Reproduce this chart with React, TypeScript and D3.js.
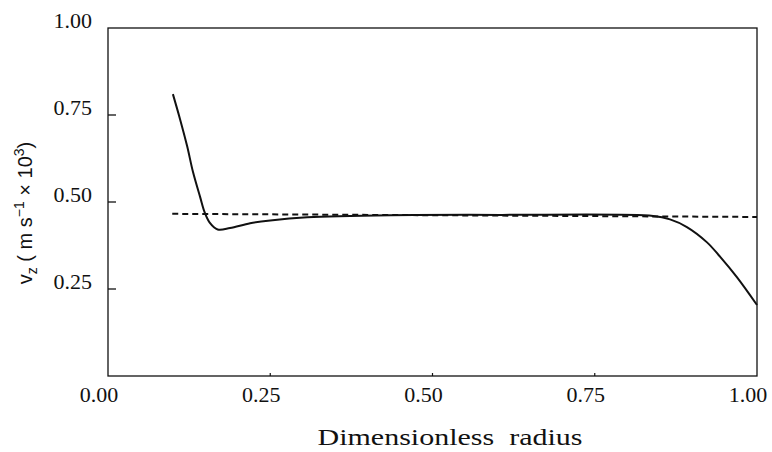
import React from "react";
import * as d3 from "d3";

const xTicks = [0, 0.25, 0.5, 0.75, 1.0];
const xTickLabels = ["0.00", "0.25", "0.50", "0.75", "1.00"];
const yTicks = [0.25, 0.5, 0.75, 1.0];
const yTickLabels = ["0.25", "0.50", "0.75", "1.00"];

const solidR = [0.100, 0.111, 0.122, 0.131, 0.142, 0.149, 0.157, 0.169, 0.188, 0.219, 0.250, 0.307, 0.435, 0.604, 0.840, 0.866, 0.892, 0.923, 0.943, 0.969, 1.000];
const solidV = [0.810, 0.738, 0.660, 0.586, 0.514, 0.470, 0.440, 0.421, 0.425, 0.439, 0.447, 0.456, 0.462, 0.463, 0.460, 0.450, 0.428, 0.384, 0.343, 0.284, 0.204];

const dashedR = [0.099, 0.5, 1.0];
const dashedV = [0.466, 0.462, 0.457];

export default function App() {
  const x = d3.scaleLinear().domain([0, 1]).range([108, 757]);
  const y = d3.scaleLinear().domain([0, 1]).range([376, 28]);

  const smooth = d3
    .line<[number, number]>()
    .x((d) => x(d[0]))
    .y((d) => y(d[1]))
    .curve(d3.curveCatmullRom.alpha(0.5));
  const straight = d3
    .line<[number, number]>()
    .x((d) => x(d[0]))
    .y((d) => y(d[1]));

  const solid = solidR.map((r, i) => [r, solidV[i]] as [number, number]);
  const dashed = dashedR.map((r, i) => [r, dashedV[i]] as [number, number]);

  const ink = "#111";
  const serif = "Liberation Serif";
  const sans = "Liberation Sans";

  return (
    <svg
      width={772}
      height={452}
      style={{ position: "absolute", left: 0, top: 0, background: "#fff" }}
    >
      <rect x={0} y={0} width={772} height={452} fill="#fff" />
      <rect
        x={x(0)}
        y={y(1)}
        width={x(1) - x(0)}
        height={y(0) - y(1)}
        fill="none"
        stroke={ink}
        strokeWidth={1.3}
      />
      {yTicks.map((t, i) => (
        <g key={"yt" + i}>
          {t < 1 && (
            <line x1={x(0)} x2={x(0) + 8} y1={y(t)} y2={y(t)} stroke={ink} strokeWidth={1.3} />
          )}
          <text
            x={92}
            y={y(t)}
            textAnchor="end"
            fontFamily={serif}
            fontSize={22}
            fill={ink}
          >
            {yTickLabels[i]}
          </text>
        </g>
      ))}
      {xTicks.map((t, i) => (
        <g key={"xt" + i}>
          {t > 0 && t < 1 && (
            <line x1={x(t)} x2={x(t)} y1={y(0)} y2={y(0) - 3} stroke={ink} strokeWidth={1.2} />
          )}
          <text
            x={x(t) - 9}
            y={402}
            textAnchor="middle"
            fontFamily={serif}
            fontSize={22}
            fill={ink}
          >
            {xTickLabels[i]}
          </text>
        </g>
      ))}
      <path d={straight(dashed) || ""} fill="none" stroke={ink} strokeWidth={2} strokeDasharray="6,4" />
      <path d={smooth(solid) || ""} fill="none" stroke={ink} strokeWidth={2} strokeLinejoin="round" />
      <text
        x={450}
        y={445}
        textAnchor="middle"
        fontFamily={serif}
        fontSize={24}
        fill={ink}
        style={{ whiteSpace: "pre" }}
        textLength={265}
        lengthAdjust="spacingAndGlyphs"
      >
        {"Dimensionless  radius"}
      </text>
      <text
        transform="translate(32,213) rotate(-90)"
        textAnchor="middle"
        fontFamily={sans}
        fontSize={20}
        fill={ink}
        style={{ whiteSpace: "pre" }}
      >
        <tspan>v</tspan>
        <tspan fontSize={14} dy={5}>z</tspan>
        <tspan dy={-5}>{" ( m s"}</tspan>
        <tspan fontSize={14} dy={-8}>{"−1"}</tspan>
        <tspan dy={8}>{" × 10"}</tspan>
        <tspan fontSize={14} dy={-8}>3</tspan>
        <tspan dy={8}>)</tspan>
      </text>
    </svg>
  );
}
